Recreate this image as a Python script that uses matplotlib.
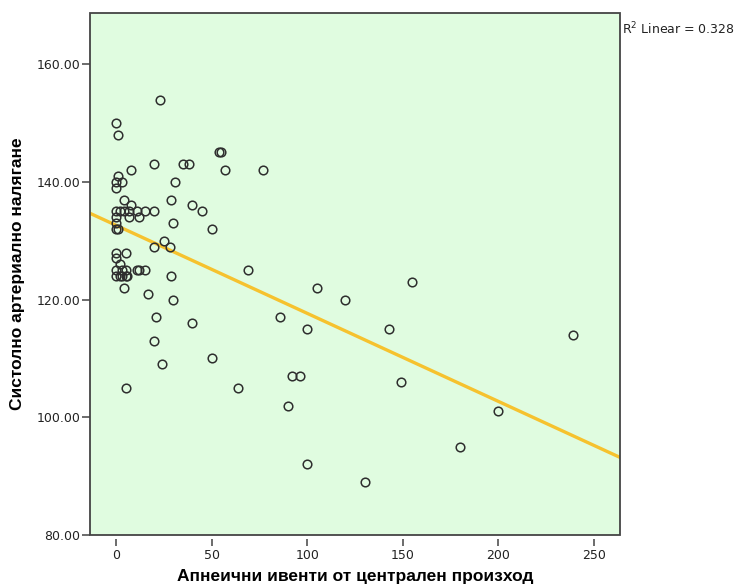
import numpy as np
import matplotlib
matplotlib.use("Agg")
from matplotlib import pyplot as plt
from matplotlib.patches import Rectangle

# central apnea events vs systolic blood pressure
apnea_events = [23, 0, 1, 54, 55, 20, 35, 38, 8, 57, 77, 1,
                0, 3, 31, 0, 4, 29, 8, 40,
                0, 2, 4, 7, 11, 15, 20, 45,
                0, 7, 12, 0, 30, 0, 1, 50,
                25, 20, 28, 0, 5, 0, 2,
                0, 3, 5, 11, 12, 15, 69,
                0, 2, 3, 5, 6, 29,
                155, 4, 105, 17, 30, 120, 21, 86, 40, 100, 143,
                239, 20, 50, 24, 92, 96, 149, 5, 64, 90, 200,
                180, 100, 130]
systolic_bp = [154, 150, 148, 145, 145, 143, 143, 143, 142, 142, 142, 141,
               140, 140, 140, 139, 137, 137, 136, 136,
               135, 135, 135, 135, 135, 135, 135, 135,
               134, 134, 134, 133, 133, 132, 132, 132,
               130, 129, 129, 128, 128, 127, 126,
               125, 125, 125, 125, 125, 125, 125,
               124, 124, 124, 124, 124, 124,
               123, 122, 122, 121, 120, 120, 117, 117, 116, 115, 115,
               114, 113, 110, 109, 107, 107, 106, 105, 105, 102, 101,
               95, 92, 89]
r2_label = "0.328"

x = np.array(apnea_events, dtype=float)
y = np.array(systolic_bp, dtype=float)
slope, intercept = np.polyfit(x, y, 1)

fig = plt.figure(figsize=(7.34, 5.88), dpi=100)
ax = fig.add_axes([0.1226, 0.0901, 0.7221, 0.8878])
ax.set_facecolor("#e0fce0")

xlim = (-13.6, 263.6)
ylim = (80, 168.7)
ax.set_xlim(*xlim)
ax.set_ylim(*ylim)

xs = np.array(xlim)
ax.plot(xs, intercept + slope * xs, color="#f6c22e", lw=2.4, zorder=2)
ax.plot(x, y, "o", mfc="none", mec="#2e2e2e", mew=1.1, ms=6.2, zorder=3)

# box around the plot, bottom axis pushed slightly outward
for side in ["top", "right", "left"]:
    ax.spines[side].set_visible(False)
ax.spines["bottom"].set_position(("outward", 3))
ax.spines["bottom"].set_visible(False)
ax.add_patch(Rectangle((0, 0), 1, 1, transform=ax.transAxes, fill=False,
                       edgecolor="#444444", lw=1.3, clip_on=False, zorder=5))

ax.set_xticks([0, 50, 100, 150, 200, 250])
ax.set_yticks([80, 100, 120, 140, 160])
ax.set_yticklabels(["%.2f" % v for v in [80, 100, 120, 140, 160]])
ax.tick_params(axis="both", direction="out", length=6, width=1.1,
               color="#444444", labelsize=9, labelcolor="#222222")
ax.tick_params(axis="x", pad=2, length=5)
ax.tick_params(axis="y", pad=1)

label_font = ["Liberation Sans", "DejaVu Sans"]
ax.set_xlabel("Апнеични ивенти от централен произход", fontsize=12.5,
              fontweight="bold", family=label_font, labelpad=5)
ax.set_ylabel("Систолно артериално налягане", fontsize=12.5,
              fontweight="bold", family=label_font, labelpad=8)

ax.text(1.003, 0.985, r"R$^2$ Linear = " + r2_label, transform=ax.transAxes,
        fontsize=9, ha="left", va="top", color="#222222")

fig.savefig("out.png", dpi=100)
